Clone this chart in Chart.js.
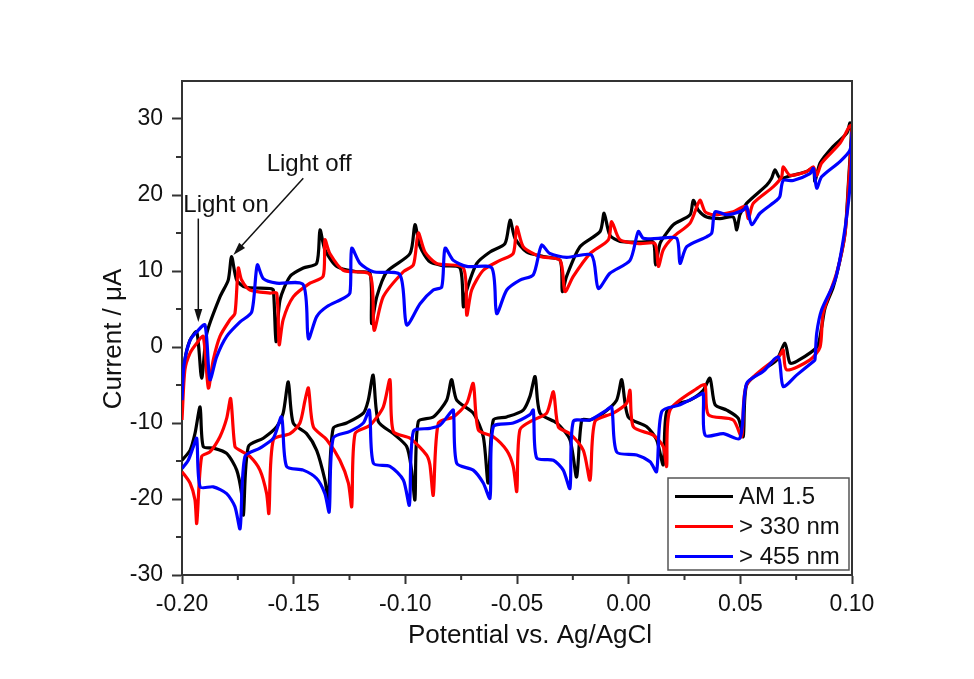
<!DOCTYPE html>
<html>
<head>
<meta charset="utf-8">
<title>Chopped-light cyclic voltammetry</title>
<script src="https://cdn.jsdelivr.net/npm/chart.js@4.4.1/dist/chart.umd.min.js"></script>
<style>
  html, body { margin: 0; padding: 0; background: #fff; }
  #wrap { width: 974px; height: 679px; }
</style>
</head>
<body>
<div id="wrap"><canvas id="chart" width="974" height="679"></canvas></div>
<script>
// [potential (V vs Ag/AgCl), current (uA)] pairs, in scan order.
// "forward" = anodic sweep -0.20 -> 0.10, "reverse" = cathodic sweep back to -0.20.

const am15Forward = [
    [-0.2000,-6.3],[-0.1987,-1.7],[-0.1964,0.9],[-0.1934,2.0],[-0.1912,-4.1],[-0.1889,1.8],[-0.1830,6.6],[-0.1793,8.8],
    [-0.1778,11.9],[-0.1755,8.8],[-0.1718,7.9],[-0.1606,7.7],[-0.1591,7.5],[-0.1579,0.7],[-0.1561,6.2],[-0.1516,9.3],
    [-0.1457,10.4],[-0.1397,11.0],[-0.1382,15.4],[-0.1360,12.8],[-0.1307,10.6],[-0.1218,9.9],[-0.1158,9.7],[-0.1151,3.1],
    [-0.1128,6.6],[-0.1083,9.9],[-0.0979,12.3],[-0.0957,16.1],[-0.0934,13.2],[-0.0890,11.2],[-0.0830,10.7],[-0.0755,10.4],
    [-0.0740,5.3],[-0.0725,7.5],[-0.0680,11.0],[-0.0621,12.5],[-0.0554,13.6],[-0.0531,16.7],[-0.0509,14.3],[-0.0457,12.5],
    [-0.0382,11.9],[-0.0307,11.4],[-0.0297,7.3],[-0.0278,9.3],[-0.0218,13.2],[-0.0128,15.2],[-0.0110,17.6],[-0.0084,14.7],
    [-0.0039,13.9],[0.0051,13.8],[0.0110,13.8],[0.0120,10.8],[0.0140,13.6],[0.0163,14.7],[0.0200,16.1],[0.0275,17.4],
    [0.0289,19.3],[0.0312,18.0],[0.0349,17.1],[0.0409,16.9],[0.0468,17.1],[0.0484,15.4],[0.0498,17.4],[0.0528,18.9],
    [0.0618,21.3],[0.0640,22.2],[0.0655,23.3],[0.0678,22.2],[0.0722,22.5],[0.0797,23.1],[0.0827,23.5],[0.0834,21.8],
    [0.0857,24.2],[0.0916,26.4],[0.0976,28.1],[0.0991,29.5],[0.0998,28.9]
];
const am15Reverse = [
    [0.0984,21.6],[0.0969,15.0],[0.0946,11.4],[0.0916,7.9],[0.0879,5.1],[0.0864,2.6],[0.0843,0.0],[0.0752,-1.9],
    [0.0722,-2.1],[0.0700,0.5],[0.0663,-1.7],[0.0603,-3.0],[0.0528,-5.0],[0.0513,-11.8],[0.0491,-9.4],[0.0439,-8.3],
    [0.0387,-7.6],[0.0364,-4.1],[0.0334,-5.7],[0.0275,-7.0],[0.0230,-7.4],[0.0170,-8.5],[0.0155,-15.5],[0.0125,-12.2],
    [0.0081,-10.5],[-0.0002,-9.2],[-0.0031,-4.3],[-0.0054,-7.0],[-0.0114,-8.7],[-0.0173,-9.6],[-0.0210,-9.6],[-0.0233,-17.1],
    [-0.0263,-12.2],[-0.0322,-10.0],[-0.0397,-8.7],[-0.0419,-3.9],[-0.0442,-6.5],[-0.0472,-8.3],[-0.0546,-9.2],[-0.0606,-9.6],
    [-0.0629,-17.9],[-0.0651,-11.8],[-0.0696,-8.7],[-0.0770,-7.0],[-0.0793,-4.3],[-0.0815,-7.0],[-0.0875,-9.2],[-0.0942,-9.8],
    [-0.0957,-20.1],[-0.0972,-16.2],[-0.0994,-13.1],[-0.1054,-11.4],[-0.1121,-9.8],[-0.1144,-3.7],[-0.1166,-7.0],[-0.1188,-8.7],
    [-0.1263,-10.0],[-0.1323,-10.7],[-0.1345,-20.1],[-0.1360,-17.5],[-0.1397,-13.6],[-0.1442,-11.4],[-0.1502,-10.0],[-0.1524,-4.6],
    [-0.1547,-8.7],[-0.1576,-10.5],[-0.1636,-12.0],[-0.1703,-13.1],[-0.1725,-22.1],[-0.1733,-19.3],[-0.1755,-16.2],[-0.1800,-14.0],
    [-0.1860,-13.3],[-0.1905,-13.1],[-0.1919,-7.9],[-0.1942,-11.4],[-0.1964,-13.6],[-0.2000,-14.9]
];

const uv330Forward = [
    [-0.2000,-9.6],[-0.1987,-3.0],[-0.1964,-0.8],[-0.1934,0.5],[-0.1905,1.4],[-0.1882,-5.4],[-0.1860,-1.7],[-0.1830,1.4],
    [-0.1785,3.6],[-0.1763,4.4],[-0.1748,10.4],[-0.1733,8.8],[-0.1696,7.5],[-0.1606,7.1],[-0.1576,7.1],[-0.1565,0.3],
    [-0.1547,3.6],[-0.1502,6.6],[-0.1427,8.4],[-0.1368,9.3],[-0.1360,14.1],[-0.1338,12.3],[-0.1278,10.1],[-0.1158,9.5],
    [-0.1140,2.2],[-0.1099,6.6],[-0.1009,9.9],[-0.0964,10.8],[-0.0942,15.0],[-0.0912,12.5],[-0.0860,11.0],[-0.0740,10.4],
    [-0.0725,4.2],[-0.0703,7.5],[-0.0651,10.1],[-0.0576,11.4],[-0.0517,12.3],[-0.0501,15.8],[-0.0472,13.2],[-0.0397,11.9],
    [-0.0307,11.4],[-0.0285,7.3],[-0.0248,9.3],[-0.0173,12.3],[-0.0091,14.1],[-0.0076,16.5],[-0.0039,14.1],[0.0051,13.6],
    [0.0118,13.6],[0.0133,10.6],[0.0155,12.8],[0.0200,14.5],[0.0275,16.3],[0.0319,19.3],[0.0342,17.8],[0.0379,17.4],
    [0.0468,17.8],[0.0521,18.5],[0.0536,16.9],[0.0558,18.9],[0.0648,21.1],[0.0685,22.4],[0.0692,23.7],[0.0722,22.6],
    [0.0797,23.1],[0.0827,23.7],[0.0842,22.6],[0.0864,24.2],[0.0946,26.8],[0.0988,29.0],[0.1000,29.2]
];
const uv330Reverse = [
    [0.0986,22.0],[0.0969,15.0],[0.0931,9.7],[0.0871,4.5],[0.0857,0.0],[0.0812,-1.7],[0.0707,-3.0],[0.0692,-0.4],
    [0.0677,-1.1],[0.0528,-5.0],[0.0506,-11.8],[0.0468,-9.6],[0.0357,-8.9],[0.0342,-5.0],[0.0319,-5.2],[0.0185,-8.3],
    [0.0170,-15.7],[0.0155,-13.1],[0.0110,-11.6],[0.0021,-10.5],[0.0006,-5.7],[-0.0009,-7.4],[-0.0069,-8.7],[-0.0151,-9.8],
    [-0.0173,-17.5],[-0.0203,-13.6],[-0.0263,-11.4],[-0.0315,-10.5],[-0.0337,-5.9],[-0.0367,-8.7],[-0.0427,-9.6],[-0.0487,-10.9],
    [-0.0501,-19.0],[-0.0517,-15.7],[-0.0546,-13.6],[-0.0606,-11.8],[-0.0673,-10.9],[-0.0696,-4.8],[-0.0725,-7.4],[-0.0785,-9.2],
    [-0.0852,-10.0],[-0.0875,-19.5],[-0.0890,-15.5],[-0.0905,-14.2],[-0.0979,-12.0],[-0.1054,-11.1],[-0.1069,-4.3],[-0.1099,-7.9],
    [-0.1158,-10.3],[-0.1225,-11.4],[-0.1240,-21.0],[-0.1255,-17.9],[-0.1293,-14.9],[-0.1352,-12.2],[-0.1412,-10.5],[-0.1434,-5.4],
    [-0.1449,-7.0],[-0.1472,-10.0],[-0.1516,-11.4],[-0.1591,-12.2],[-0.1611,-21.9],[-0.1621,-19.3],[-0.1651,-16.2],[-0.1696,-14.4],
    [-0.1740,-13.6],[-0.1763,-13.1],[-0.1782,-6.8],[-0.1800,-9.4],[-0.1830,-11.8],[-0.1875,-13.8],[-0.1912,-14.4],[-0.1934,-23.2],
    [-0.1942,-20.1],[-0.1964,-17.9],[-0.2000,-16.4]
];

const vis455Forward = [
    [-0.2000,-7.0],[-0.1991,-2.4],[-0.1964,0.9],[-0.1934,2.0],[-0.1897,2.9],[-0.1875,-4.3],[-0.1845,-1.3],[-0.1800,1.4],
    [-0.1740,3.3],[-0.1688,4.6],[-0.1663,10.8],[-0.1636,9.0],[-0.1576,8.4],[-0.1457,8.2],[-0.1434,1.1],[-0.1397,4.0],
    [-0.1352,5.3],[-0.1278,6.4],[-0.1248,7.1],[-0.1240,13.0],[-0.1203,11.0],[-0.1143,9.9],[-0.1024,9.5],[-0.0994,2.9],
    [-0.0934,5.7],[-0.0875,7.5],[-0.0837,7.9],[-0.0822,13.0],[-0.0785,11.4],[-0.0725,10.6],[-0.0613,10.4],[-0.0591,4.4],
    [-0.0546,7.5],[-0.0487,8.8],[-0.0427,9.5],[-0.0390,13.4],[-0.0353,12.3],[-0.0278,11.8],[-0.0166,12.1],[-0.0136,7.7],
    [-0.0084,9.7],[0.0006,11.4],[0.0043,15.2],[0.0066,14.3],[0.0133,14.3],[0.0215,14.3],[0.0230,11.0],[0.0260,13.2],
    [0.0349,14.5],[0.0372,15.0],[0.0387,17.8],[0.0439,17.4],[0.0513,18.0],[0.0528,18.5],[0.0551,16.1],[0.0588,17.6],
    [0.0663,19.3],[0.0677,19.8],[0.0692,21.9],[0.0737,21.9],[0.0812,22.8],[0.0827,23.5],[0.0842,20.9],[0.0864,22.4],
    [0.0946,24.4],[0.0991,25.9],[0.1000,28.2]
];
const vis455Reverse = [
    [0.0991,21.1],[0.0961,14.1],[0.0924,8.8],[0.0864,4.9],[0.0842,1.8],[0.0834,-1.7],[0.0827,-1.9],[0.0752,-3.7],
    [0.0692,-5.2],[0.0670,-1.3],[0.0603,-3.2],[0.0528,-4.8],[0.0498,-12.0],[0.0424,-11.4],[0.0342,-11.6],[0.0334,-6.1],
    [0.0319,-6.3],[0.0230,-7.6],[0.0148,-8.5],[0.0125,-16.4],[0.0096,-15.1],[0.0036,-14.2],[-0.0054,-13.8],[-0.0076,-7.9],
    [-0.0099,-8.3],[-0.0173,-9.6],[-0.0248,-9.8],[-0.0263,-18.6],[-0.0293,-16.2],[-0.0337,-14.9],[-0.0412,-14.6],[-0.0427,-8.3],
    [-0.0442,-8.9],[-0.0517,-10.0],[-0.0606,-10.5],[-0.0621,-19.9],[-0.0651,-17.9],[-0.0696,-16.2],[-0.0770,-15.3],[-0.0785,-8.3],
    [-0.0800,-8.7],[-0.0845,-10.3],[-0.0890,-10.7],[-0.0964,-11.1],[-0.0982,-20.8],[-0.1009,-17.5],[-0.1069,-15.7],[-0.1143,-15.3],
    [-0.1161,-8.3],[-0.1188,-10.0],[-0.1248,-11.1],[-0.1323,-12.0],[-0.1341,-21.7],[-0.1360,-19.3],[-0.1397,-17.3],[-0.1457,-16.2],
    [-0.1532,-15.7],[-0.1554,-9.2],[-0.1591,-12.0],[-0.1651,-13.3],[-0.1718,-14.4],[-0.1740,-23.9],[-0.1763,-21.0],[-0.1800,-19.3],
    [-0.1860,-18.4],[-0.1919,-18.4],[-0.1934,-12.0],[-0.1949,-13.1],[-0.1972,-14.9],[-0.2000,-16.0]
];

const seriesLabels = ["AM 1.5", "> 330 nm", "> 455 nm"];
const seriesColors = ["#000000", "#ff0000", "#0000ff"];

const xTickValues = [-0.20, -0.15, -0.10, -0.05, 0.00, 0.05, 0.10];
const xMinorValues = [-0.175, -0.125, -0.075, -0.025, 0.025, 0.075];
const yTickValues = [-30, -20, -10, 0, 10, 20, 30];
const yMinorValues = [-25, -15, -5, 5, 15, 25];

// arrow notes: text anchor and arrow tail/tip, in axis units
const notes = [
    { text: "Light on",  at: [-0.1994, 17.8], from: [-0.1927, 16.9], to: [-0.1927, 3.3] },
    { text: "Light off", at: [-0.1621, 23.1], from: [-0.1457, 22.2], to: [-0.1770, 12.1] }
];

const FONT = "'Liberation Sans', Arial, Helvetica, sans-serif";
Chart.defaults.font.family = FONT;

function loop(forward, reverse) {
    return forward.concat(reverse).map(p => ({ x: p[0], y: p[1] }));
}

const traces = [
    loop(am15Forward, am15Reverse),
    loop(uv330Forward, uv330Reverse),
    loop(vis455Forward, vis455Reverse)
];

function arrow(ctx, x1, y1, x2, y2) {
    const ang = Math.atan2(y2 - y1, x2 - x1);
    const head = 13, half = 4;
    ctx.beginPath();
    ctx.moveTo(x1, y1);
    ctx.lineTo(x2 - Math.cos(ang) * head * 0.8, y2 - Math.sin(ang) * head * 0.8);
    ctx.stroke();
    ctx.beginPath();
    ctx.moveTo(x2, y2);
    ctx.lineTo(x2 - Math.cos(ang) * head - Math.sin(ang) * half, y2 - Math.sin(ang) * head + Math.cos(ang) * half);
    ctx.lineTo(x2 - Math.cos(ang) * head + Math.sin(ang) * half, y2 - Math.sin(ang) * head - Math.cos(ang) * half);
    ctx.closePath();
    ctx.fill();
}

const decorations = {
    id: "decorations",
    afterDraw(chart) {
        const ctx = chart.ctx;
        const a = chart.chartArea;
        const x = chart.scales.x;
        const y = chart.scales.y;

        ctx.save();

        // closing frame on top and right
        ctx.strokeStyle = "#333";
        ctx.lineWidth = 2;
        ctx.beginPath();
        ctx.moveTo(a.left, a.top);
        ctx.lineTo(a.right, a.top);
        ctx.lineTo(a.right, a.bottom);
        ctx.stroke();

        // minor ticks
        ctx.beginPath();
        xMinorValues.forEach(v => {
            const px = x.getPixelForValue(v);
            ctx.moveTo(px, a.bottom);
            ctx.lineTo(px, a.bottom + 5);
        });
        yMinorValues.forEach(v => {
            const py = y.getPixelForValue(v);
            ctx.moveTo(a.left, py);
            ctx.lineTo(a.left - 6, py);
        });
        ctx.stroke();

        // axis titles
        ctx.fillStyle = "#111";
        ctx.font = "26px " + FONT;
        ctx.textAlign = "center";
        ctx.textBaseline = "alphabetic";
        ctx.fillText("Potential vs. Ag/AgCl", 530, 643);
        ctx.save();
        ctx.translate(121, 339);
        ctx.rotate(-Math.PI / 2);
        ctx.fillText("Current / \u03bcA", 0, 0);
        ctx.restore();

        // arrow notes
        ctx.font = "24px " + FONT;
        ctx.textAlign = "left";
        ctx.strokeStyle = "#111";
        ctx.lineWidth = 1.5;
        notes.forEach(n => {
            ctx.fillText(n.text, x.getPixelForValue(n.at[0]), y.getPixelForValue(n.at[1]));
            arrow(ctx,
                x.getPixelForValue(n.from[0]), y.getPixelForValue(n.from[1]),
                x.getPixelForValue(n.to[0]), y.getPixelForValue(n.to[1]));
        });

        // legend box in the lower right corner
        const bx = a.right - 184, by = a.bottom - 97, bw = 181, bh = 92;
        ctx.fillStyle = "#fff";
        ctx.fillRect(bx, by, bw, bh);
        ctx.strokeStyle = "#555";
        ctx.lineWidth = 1.5;
        ctx.strokeRect(bx, by, bw, bh);
        ctx.font = "24px " + FONT;
        ctx.textBaseline = "middle";
        chart.data.datasets.forEach((ds, i) => {
            const ry = by + 18.5 + i * 30;
            ctx.strokeStyle = ds.borderColor;
            ctx.lineWidth = 3;
            ctx.beginPath();
            ctx.moveTo(bx + 7, ry);
            ctx.lineTo(bx + 65, ry);
            ctx.stroke();
            ctx.fillStyle = "#111";
            ctx.fillText(ds.label, bx + 71, ry + 1);
        });

        ctx.restore();
    }
};

const ctx = document.getElementById("chart");

new Chart(ctx, {
    type: "scatter",
    data: {
        datasets: traces.map((pts, i) => ({
            label: seriesLabels[i],
            data: pts,
            showLine: true,
            borderColor: seriesColors[i],
            backgroundColor: seriesColors[i],
            borderWidth: 3.2,
            borderJoinStyle: "round",
            pointRadius: 0,
            tension: 0.25,
            order: traces.length - 1 - i
        }))
    },
    options: {
        responsive: false,
        animation: false,
        events: [],
        layout: { padding: { left: 0, right: 122, top: 81, bottom: 0 } },
        plugins: {
            legend: { display: false },
            tooltip: { enabled: false }
        },
        scales: {
            x: {
                type: "linear",
                min: -0.2,
                max: 0.1,
                afterBuildTicks: s => { s.ticks = xTickValues.map(v => ({ value: v })); },
                afterFit: s => { s.height = 104; },
                grid: { drawOnChartArea: false, drawTicks: true, tickLength: 9, tickWidth: 2, tickColor: "#333" },
                border: { display: true, color: "#333", width: 2 },
                ticks: {
                    padding: 7,
                    color: "#111",
                    font: { size: 23 },
                    maxRotation: 0,
                    autoSkip: false,
                    callback: v => v.toFixed(2)
                }
            },
            y: {
                type: "linear",
                min: -30,
                max: 35,
                afterBuildTicks: s => { s.ticks = yTickValues.map(v => ({ value: v })); },
                afterFit: s => { s.width = 182; },
                grid: { drawOnChartArea: false, drawTicks: true, tickLength: 10, tickWidth: 2, tickColor: "#333" },
                border: { display: true, color: "#333", width: 2 },
                ticks: {
                    padding: 9,
                    color: "#111",
                    font: { size: 23 },
                    autoSkip: false,
                    callback: v => String(v)
                }
            }
        }
    },
    plugins: [decorations]
});
</script>
</body>
</html>
